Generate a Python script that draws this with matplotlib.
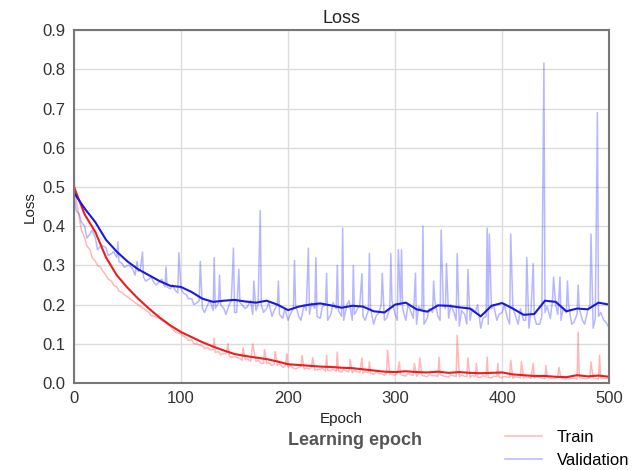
import numpy as np
import matplotlib
matplotlib.use("Agg")
import matplotlib.pyplot as plt

plt.rcParams["font.family"] = ["Liberation Sans", "DejaVu Sans"]

# raw curves sampled every 5 epochs
base_epochs = list(range(0, 501, 5))
train_base = [
    0.52, 0.42, 0.37, 0.34, 0.31, 0.295, 0.275, 0.26, 0.245, 0.23,
    0.22, 0.21, 0.20, 0.19, 0.18, 0.17, 0.165, 0.155, 0.145, 0.13,
    0.125, 0.115, 0.11, 0.10, 0.095, 0.09, 0.085, 0.08, 0.075, 0.07,
    0.068, 0.062, 0.06, 0.055, 0.055, 0.05, 0.05, 0.045, 0.045, 0.04,
    0.04, 0.038, 0.04, 0.035, 0.036, 0.033, 0.035, 0.03, 0.032, 0.03,
    0.028, 0.03, 0.026, 0.028, 0.025, 0.026, 0.022, 0.024, 0.02, 0.022,
    0.02, 0.022, 0.018, 0.021, 0.017, 0.02, 0.016, 0.019, 0.017, 0.018,
    0.015, 0.018, 0.016, 0.017, 0.014, 0.017, 0.015, 0.016, 0.013, 0.016,
    0.014, 0.015, 0.012, 0.015, 0.013, 0.014, 0.012, 0.014, 0.011, 0.013,
    0.012, 0.013, 0.011, 0.012, 0.01, 0.013, 0.011, 0.012, 0.01, 0.012,
    0.011,
]
val_base = [
    0.48, 0.43, 0.40, 0.38, 0.37, 0.35, 0.345, 0.33, 0.32, 0.305,
    0.30, 0.29, 0.285, 0.27, 0.265, 0.255, 0.26, 0.245, 0.24, 0.235,
    0.24, 0.225, 0.215, 0.205, 0.19, 0.20, 0.185, 0.205, 0.19, 0.20,
    0.18, 0.205, 0.19, 0.21, 0.185, 0.20, 0.19, 0.17, 0.20, 0.165,
    0.16, 0.19, 0.17, 0.20, 0.175, 0.19, 0.165, 0.20, 0.175, 0.19,
    0.17, 0.20, 0.16, 0.19, 0.17, 0.185, 0.15, 0.18, 0.16, 0.19,
    0.175, 0.20, 0.16, 0.18, 0.15, 0.185, 0.165, 0.18, 0.17, 0.20,
    0.165, 0.18, 0.145, 0.175, 0.16, 0.18, 0.14, 0.17, 0.19, 0.16,
    0.18, 0.165, 0.19, 0.15, 0.16, 0.14, 0.17, 0.15, 0.18, 0.165,
    0.20, 0.16, 0.18, 0.15, 0.175, 0.16, 0.185, 0.14, 0.17, 0.16,
    0.14,
]

# extra in-between samples (epochs 2, 7, 12, ...)
mid_epochs = list(range(2, 500, 5))
val_mid = [
    0.44, 0.41, 0.37, 0.39, 0.34, 0.35, 0.325, 0.335, 0.31, 0.295,
    0.30, 0.275, 0.29, 0.26, 0.27, 0.25, 0.265, 0.245, 0.25, 0.23,
    0.23, 0.215, 0.20, 0.21, 0.18, 0.21, 0.19, 0.20, 0.175, 0.21,
    0.18, 0.20, 0.195, 0.175, 0.20, 0.18, 0.205, 0.185, 0.175, 0.19,
    0.175, 0.20, 0.16, 0.185, 0.205, 0.17, 0.195, 0.16, 0.205, 0.185,
    0.16, 0.21, 0.175, 0.20, 0.16, 0.19, 0.17, 0.20, 0.165, 0.21,
    0.16, 0.19, 0.20, 0.165, 0.195, 0.15, 0.19, 0.21, 0.16, 0.19,
    0.20, 0.16, 0.185, 0.15, 0.19, 0.20, 0.165, 0.15, 0.20, 0.175,
    0.20, 0.15, 0.175, 0.19, 0.16, 0.185, 0.15, 0.17, 0.195, 0.21,
    0.175, 0.19, 0.20, 0.155, 0.19, 0.15, 0.20, 0.165, 0.18, 0.155,
]
train_mid = [
    0.47, 0.39, 0.35, 0.32, 0.30, 0.285, 0.265, 0.25, 0.235, 0.225,
    0.215, 0.205, 0.195, 0.185, 0.172, 0.168, 0.16, 0.15, 0.138, 0.128,
    0.12, 0.108, 0.10, 0.097, 0.088, 0.085, 0.078, 0.072, 0.075, 0.065,
    0.066, 0.058, 0.062, 0.053, 0.058, 0.05, 0.052, 0.048, 0.05, 0.042,
    0.045, 0.036, 0.042, 0.038, 0.04, 0.034, 0.038, 0.032, 0.036, 0.031,
    0.034, 0.029, 0.033, 0.027, 0.03, 0.025, 0.028, 0.024, 0.027, 0.022,
    0.025, 0.02, 0.024, 0.019, 0.023, 0.018, 0.022, 0.019, 0.021, 0.017,
    0.021, 0.016, 0.02, 0.017, 0.019, 0.015, 0.019, 0.014, 0.018, 0.015,
    0.017, 0.014, 0.016, 0.013, 0.016, 0.012, 0.016, 0.013, 0.015, 0.012,
    0.015, 0.011, 0.014, 0.012, 0.015, 0.011, 0.014, 0.012, 0.014, 0.012,
]

# single-epoch spikes
train_spike_epochs = [131, 144, 158, 167, 178, 188, 199, 213, 223, 236, 246, 258,
                      269, 276, 293, 304, 318, 323, 341, 358, 368, 376, 386, 396,
                      408, 418, 429, 441, 453, 471, 483, 491]
train_spike_vals = [0.115, 0.10, 0.09, 0.10, 0.085, 0.08, 0.075, 0.07, 0.065, 0.071,
                    0.079, 0.06, 0.064, 0.054, 0.084, 0.054, 0.05, 0.064, 0.066, 0.122,
                    0.064, 0.05, 0.066, 0.05, 0.058, 0.054, 0.05, 0.045, 0.04, 0.13,
                    0.054, 0.071]
val_spike_epochs = [41, 59, 64, 86, 98, 118, 131, 136, 149, 154, 168, 174, 191, 206,
                    219, 226, 236, 246, 251, 261, 269, 276, 288, 296, 303, 306, 319,
                    326, 336, 343, 348, 358, 368, 386, 388, 408, 423, 429, 439, 448,
                    454, 461, 471, 483, 489]
val_spike_vals = [0.36, 0.31, 0.334, 0.296, 0.332, 0.31, 0.32, 0.275, 0.344, 0.29,
                  0.26, 0.44, 0.26, 0.313, 0.344, 0.32, 0.28, 0.30, 0.395, 0.30,
                  0.279, 0.33, 0.28, 0.33, 0.34, 0.34, 0.28, 0.40, 0.26, 0.39,
                  0.305, 0.33, 0.29, 0.395, 0.38, 0.38, 0.32, 0.305, 0.816, 0.27,
                  0.27, 0.26, 0.25, 0.38, 0.69]

# smoothed curves, every 10 epochs
smooth_epochs = list(range(0, 501, 10))
train_smooth = [
    0.50, 0.43, 0.385, 0.32, 0.275, 0.243, 0.215, 0.19, 0.167, 0.147,
    0.13, 0.117, 0.104, 0.093, 0.083, 0.074, 0.069, 0.065, 0.061, 0.055,
    0.048, 0.046, 0.044, 0.042, 0.041, 0.039, 0.038, 0.035, 0.032, 0.029,
    0.028, 0.03, 0.028, 0.027, 0.029, 0.026, 0.028, 0.026, 0.025, 0.026,
    0.027, 0.022, 0.02, 0.018, 0.018, 0.016, 0.015, 0.02, 0.017, 0.019,
    0.016,
]
val_smooth = [
    0.485, 0.445, 0.41, 0.365, 0.335, 0.31, 0.29, 0.275, 0.26, 0.248,
    0.245, 0.232, 0.215, 0.207, 0.21, 0.212, 0.208, 0.205, 0.21, 0.20,
    0.186, 0.195, 0.20, 0.203, 0.198, 0.192, 0.197, 0.195, 0.183, 0.18,
    0.20, 0.205, 0.188, 0.182, 0.198, 0.197, 0.193, 0.19, 0.17, 0.197,
    0.204, 0.19, 0.174, 0.176, 0.21, 0.207, 0.183, 0.19, 0.188, 0.205,
    0.20,
]


def merge(parts):
    d = {}
    for ep, vals in parts:
        d.update(zip(ep, vals))
    keys = sorted(d)
    return keys, [d[k] for k in keys]


tr_x, tr_y = merge([(base_epochs, train_base), (mid_epochs, train_mid),
                    (train_spike_epochs, train_spike_vals)])
va_x, va_y = merge([(base_epochs, val_base), (mid_epochs, val_mid),
                    (val_spike_epochs, val_spike_vals)])

fig = plt.figure(figsize=(6.41, 4.70), dpi=100)
ax = fig.add_axes([0.1154, 0.185, 0.835, 0.751])

l1, = ax.plot(tr_x, tr_y, color="#ff3333", alpha=0.35, lw=1.1, label="Train")
l2, = ax.plot(va_x, va_y, color="#3333ff", alpha=0.35, lw=1.1, label="Validation")
ax.plot(smooth_epochs, train_smooth, color="#ee1c1c", lw=1.5)
ax.plot(smooth_epochs, val_smooth, color="#1a1adb", lw=1.5)

ax.set_xlim(0, 500)
ax.set_ylim(0, 0.9)
ax.set_xticks([0, 100, 200, 300, 400, 500])
ax.set_yticks(np.arange(0, 0.91, 0.1))
ax.set_yticklabels([f"{v:.1f}" for v in np.arange(0, 0.91, 0.1)])
ax.grid(True, color="#dcdcdc", lw=1)
ax.set_axisbelow(True)
ax.tick_params(length=0, labelsize=12, colors="#333333", pad=6)
for s in ax.spines.values():
    s.set_color("#777777")
    s.set_linewidth(1.5)

ax.set_title("Loss", fontsize=13, color="#222222", pad=5)
ax.set_xlabel("Epoch", fontsize=11, color="#222222", labelpad=4)
ax.set_ylabel("Loss", fontsize=11, color="#222222", labelpad=4)

fig.text(0.554, 0.062, "Learning epoch", fontsize=13, color="#555555",
         fontweight="bold", ha="center", va="center")

fig.legend(handles=[l1, l2], loc="center left", bbox_to_anchor=(0.765, 0.045),
           frameon=False, fontsize=12, handlelength=2.2, labelspacing=0.45,
           handletextpad=0.9)

fig.savefig("out.png", dpi=100)
